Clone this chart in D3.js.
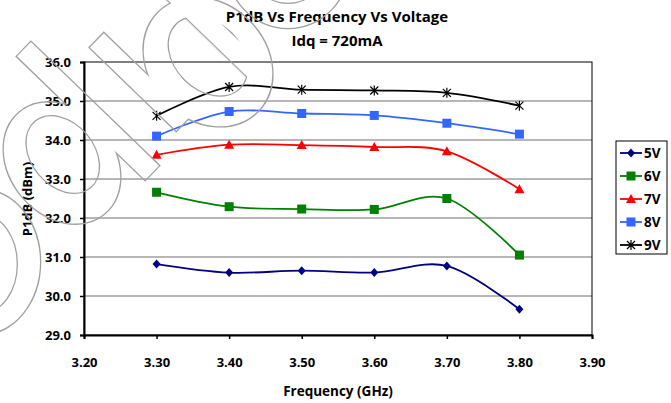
<!DOCTYPE html>
<html>
<head>
<meta charset="utf-8">
<script src="https://cdn.jsdelivr.net/npm/d3@7"></script>
<style>
	html, body { margin: 0; padding: 0; background: #fff; }
	svg { display: block; }
	svg text { font-family: "Open Sans", Lato, sans-serif; font-weight: 700; fill: #000; }
</style>
</head>
<body>
<svg id="chart" width="671" height="403"></svg>
<script>
// ===== data =====
var freqs = [3.30, 3.40, 3.50, 3.60, 3.70, 3.80]
var seriesNames = ['5V', '6V', '7V', '8V', '9V']
var v5 = [30.82, 30.60, 30.65, 30.60, 30.77, 29.66]
var v6 = [32.66, 32.29, 32.23, 32.22, 32.50, 31.05]
var v7 = [33.62, 33.88, 33.87, 33.82, 33.71, 32.74]
var v8 = [34.10, 34.73, 34.68, 34.63, 34.43, 34.15]
var v9 = [34.62, 35.36, 35.29, 35.27, 35.21, 34.88]
var xTicks = [3.20, 3.30, 3.40, 3.50, 3.60, 3.70, 3.80, 3.90]
var yTicks = [29, 30, 31, 32, 33, 34, 35, 36]

var colors = ['#000080', '#008000', '#ff0000', '#3366ff', '#000000']
var markers = ['diamond', 'square', 'triangle', 'square', 'asterisk']

var series = seriesNames.map((name, i) => ({
	name: name,
	values: [v5, v6, v7, v8, v9][i],
	color: colors[i],
	marker: markers[i]
}))

var svg = d3.select('#chart')

var margin = { left: 84, right: 79, top: 62, bottom: 68 }
var W = 671, H = 403

var x = d3.scaleLinear().domain([3.2, 3.9]).range([margin.left, W - margin.right])
var y = d3.scaleLinear().domain([29, 36]).range([H - margin.bottom, margin.top])

// ===== titles =====
svg.append('text')
	.attr('x', 337).attr('y', 22)
	.attr('text-anchor', 'middle')
	.attr('font-size', 15)
	.text('P1dB Vs Frequency Vs Voltage')

svg.append('text')
	.attr('x', 337).attr('y', 46)
	.attr('text-anchor', 'middle')
	.attr('font-size', 15)
	.text('Idq = 720mA')

// ===== grid =====
svg.append('g')
	.selectAll('line')
	.data(yTicks.slice(1, -1))
	.join('line')
	.attr('x1', x(3.2)).attr('x2', x(3.9))
	.attr('y1', d => y(d)).attr('y2', d => y(d))
	.attr('stroke', '#6e6e6e')
	.attr('stroke-width', 1)

// plot border
svg.append('rect')
	.attr('x', x(3.2)).attr('y', y(36))
	.attr('width', x(3.9) - x(3.2))
	.attr('height', y(29) - y(36))
	.attr('fill', 'none')
	.attr('stroke', '#000')
	.attr('stroke-width', 1)

// ===== axes =====
var yAxis = svg.append('g')
	.attr('transform', `translate(${x(3.2)},0)`)
	.call(d3.axisLeft(y).tickValues(yTicks).tickFormat(d3.format('.1f')).tickSize(4).tickPadding(9))
var xAxis = svg.append('g')
	.attr('transform', `translate(0,${y(29)})`)
	.call(d3.axisBottom(x).tickValues(xTicks).tickFormat(d3.format('.2f')).tickSize(4).tickPadding(19))

;[yAxis, xAxis].forEach(ax => {
	ax.select('.domain').attr('stroke', '#000').attr('stroke-width', 2)
	ax.selectAll('.tick line').attr('stroke', '#000').attr('stroke-width', 1.5)
	ax.selectAll('.tick text')
		.attr('font-family', null)
		.attr('font-size', 13)
})

svg.append('text')
	.attr('x', 338).attr('y', 396)
	.attr('text-anchor', 'middle')
	.attr('font-size', 13.5)
	.text('Frequency (GHz)')

svg.append('text')
	.attr('transform', 'translate(32,199) rotate(-90)')
	.attr('text-anchor', 'middle')
	.attr('font-size', 13)
	.text('P1dB (dBm)')

// ===== series =====
var line = d3.line()
	.x((d, i) => x(freqs[i]))
	.y(d => y(d))
	.curve(d3.curveCardinal.tension(0))

function drawMarker(g, type, color) {
	switch (type) {
		case 'diamond':
			g.append('path').attr('d', 'M0,-4.5L4,0L0,4.5L-4,0Z').attr('fill', color)
			break
		case 'square':
			g.append('rect').attr('x', -4.5).attr('y', -4.5).attr('width', 9).attr('height', 9).attr('fill', color)
			break
		case 'triangle':
			g.append('path').attr('d', 'M0,-5L5,4L-5,4Z').attr('fill', color)
			break
		case 'asterisk':
			g.append('path')
				.attr('d', 'M-4,-4L4,4M-4,4L4,-4M0,-5L0,5')
				.attr('stroke', color).attr('stroke-width', 1.2).attr('fill', 'none')
			break
	}
}

var sg = svg.append('g')
series.forEach(s => {
	sg.append('path')
		.attr('d', line(s.values))
		.attr('fill', 'none')
		.attr('stroke', s.color)
		.attr('stroke-width', 1.8)
	s.values.forEach((v, i) => {
		var m = sg.append('g').attr('transform', `translate(${x(freqs[i])},${y(v)})`)
		drawMarker(m, s.marker, s.color)
	})
})

// ===== legend =====
var lg = svg.append('g').attr('transform', 'translate(616,141)')
lg.append('rect')
	.attr('width', 51).attr('height', 113)
	.attr('fill', '#fff').attr('stroke', '#000').attr('stroke-width', 1)

series.forEach((s, i) => {
	var row = lg.append('g').attr('transform', `translate(0,${12 + i * 23})`)
	row.append('line')
		.attr('x1', 4).attr('x2', 26)
		.attr('stroke', s.color).attr('stroke-width', 1.8)
	drawMarker(row.append('g').attr('transform', 'translate(15,0)'), s.marker, s.color)
	row.append('text')
		.attr('x', 28).attr('y', 5)
		.attr('font-size', 13.5)
		.text(s.name)
})

// ===== watermark outlines (decoration) =====
// stroked shapes, with the interior of their union masked out so only the outer edge stays
function ellipsePath(cx, cy, rx, ry) {
	return `M${cx - rx},${cy}a${rx},${ry} 0 1,0 ${2 * rx},0a${rx},${ry} 0 1,0 ${-2 * rx},0Z`
}
function ringPath(cx, cy, rx, ry, irx, iry, dx, dy) {
	return ellipsePath(cx, cy, rx, ry) + ellipsePath(cx + dx, cy + dy, irx, iry)
}

var wmShapes = [
	{ d: ringPath(-18, 262, 58, 72, 36, 50, 0, 2), t: 'rotate(0)' },
	{ d: ringPath(62, 163, 52, 66, 32, 44, 6, -6), t: 'rotate(-40,62,163)' },
	{ d: ringPath(208, 62, 58, 70, 34, 46, 4, -4), t: 'rotate(-45,208,62)' },
	{ d: ringPath(288, -38, 62, 66, 42, 46, 0, -4), t: 'rotate(0)' },
	{ d: 'M-89,-10h178v20h-178Z', t: 'translate(88,111) rotate(44)' },
	{ d: 'M-60,-10h120v20h-120Z', t: 'translate(140,82) rotate(44)' },
	{ d: 'M-75,-10h150v20h-150Z', t: 'translate(205,22) rotate(44)' }
]

var mask = svg.append('defs').append('mask').attr('id', 'wmMask')
mask.append('rect').attr('width', W).attr('height', H).attr('fill', '#fff')
mask.selectAll('path')
	.data(wmShapes)
	.join('path')
	.attr('d', d => d.d)
	.attr('transform', d => d.t)
	.attr('fill-rule', 'evenodd')
	.attr('fill', '#000')

svg.append('g')
	.attr('mask', 'url(#wmMask)')
	.selectAll('path')
	.data(wmShapes)
	.join('path')
	.attr('d', d => d.d)
	.attr('transform', d => d.t)
	.attr('fill', 'none')
	.attr('stroke', '#a0a0a0')
	.attr('stroke-width', 2.6)
</script>
</body>
</html>
